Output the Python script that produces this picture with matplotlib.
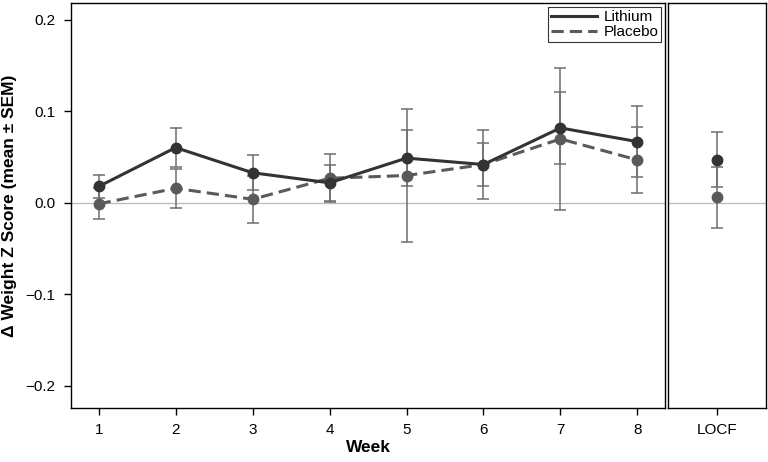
import matplotlib
matplotlib.use("Agg")
import matplotlib.pyplot as plt
from matplotlib.ticker import FuncFormatter
from matplotlib.lines import Line2D

plt.rcParams["font.family"] = ["Liberation Sans", "DejaVu Sans"]

weeks = [1, 2, 3, 4, 5, 6, 7, 8]
lithium_mean = [0.018, 0.0605, 0.033, 0.022, 0.049, 0.042, 0.082, 0.067]
lithium_sem = [0.013, 0.021, 0.019, 0.020, 0.031, 0.024, 0.039, 0.039]
placebo_mean = [-0.001, 0.016, 0.004, 0.027, 0.030, 0.042, 0.070, 0.047]
placebo_sem = [0.017, 0.021, 0.026, 0.026, 0.073, 0.038, 0.078, 0.036]

locf_label = ["LOCF"]
locf_lithium = [0.047]
locf_lithium_sem = [0.030]
locf_placebo = [0.006]
locf_placebo_sem = [0.033]

c_li = "#333333"
c_pl = "#5a5a5a"
c_err = "#6e6e6e"

fig = plt.figure(figsize=(7.68, 4.62), dpi=100)
ax = fig.add_axes([0.0924, 0.117, 0.7736, 0.8765])
ax2 = fig.add_axes([0.8698, 0.117, 0.1276, 0.8765], sharey=ax)

# error bars first, then lines on top
ax.errorbar(weeks, placebo_mean, yerr=placebo_sem, fmt="none", ecolor=c_err,
            elinewidth=1.1, capsize=4, capthick=1.1, zorder=2)
ax.errorbar(weeks, lithium_mean, yerr=lithium_sem, fmt="none", ecolor=c_err,
            elinewidth=1.1, capsize=4, capthick=1.1, zorder=2)
ax.plot(weeks, placebo_mean, color=c_pl, ls=(0, (4, 2)), lw=2.2, marker="o",
        ms=7.5, zorder=3)
ax.plot(weeks, lithium_mean, color=c_li, ls="-", lw=2.2, marker="o",
        ms=7.5, zorder=4)
ax.axhline(0, color="#bdbdbd", lw=1, zorder=1)

ax.set_xlim(0.64, 8.36)
ax.set_ylim(-0.224, 0.2185)
ax.set_xticks(weeks)
ax.set_yticks([-0.2, -0.1, 0.0, 0.1, 0.2])
ax.yaxis.set_major_formatter(FuncFormatter(lambda v, p: f"{v:.1f}".replace("-", "\u2212")))
ax.tick_params(labelsize=11, length=5, width=1, pad=6)
ax.set_xlabel("Week", fontsize=12.5, fontweight="bold", labelpad=2)
ax.set_ylabel("Δ Weight Z Score (mean ± SEM)", fontsize=12.5, fontweight="bold", labelpad=6)

handles = [Line2D([], [], color=c_li, lw=2.2, ls="-"),
           Line2D([], [], color=c_pl, lw=2.2, ls=(0, (4, 2)))]
leg = ax.legend(handles, ["Lithium", "Placebo"], loc="upper right", fontsize=11,
                frameon=True, fancybox=False, borderpad=0.2, handlelength=3.0,
                handletextpad=0.4, labelspacing=0.1, borderaxespad=0.25)
leg.get_frame().set_edgecolor("black")
leg.get_frame().set_linewidth(0.8)

# LOCF panel
xl = [0]
ax2.errorbar(xl, locf_placebo, yerr=locf_placebo_sem, fmt="none", ecolor=c_err,
             elinewidth=1.1, capsize=4, capthick=1.1, zorder=2)
ax2.errorbar(xl, locf_lithium, yerr=locf_lithium_sem, fmt="none", ecolor=c_err,
             elinewidth=1.1, capsize=4, capthick=1.1, zorder=2)
ax2.plot(xl, locf_placebo, "o", color=c_pl, ms=7.5, zorder=3)
ax2.plot(xl, locf_lithium, "o", color=c_li, ms=7.5, zorder=4)
ax2.axhline(0, color="#bdbdbd", lw=1, zorder=1)
ax2.set_xlim(-0.6, 0.6)
ax2.set_xticks(xl)
ax2.set_xticklabels(locf_label)
ax2.tick_params(axis="x", labelsize=11, length=5, width=1, pad=6)
ax2.tick_params(axis="y", left=False, labelleft=False)

for a in (ax, ax2):
    for s in a.spines.values():
        s.set_linewidth(1)

fig.savefig("out.png", dpi=100)
